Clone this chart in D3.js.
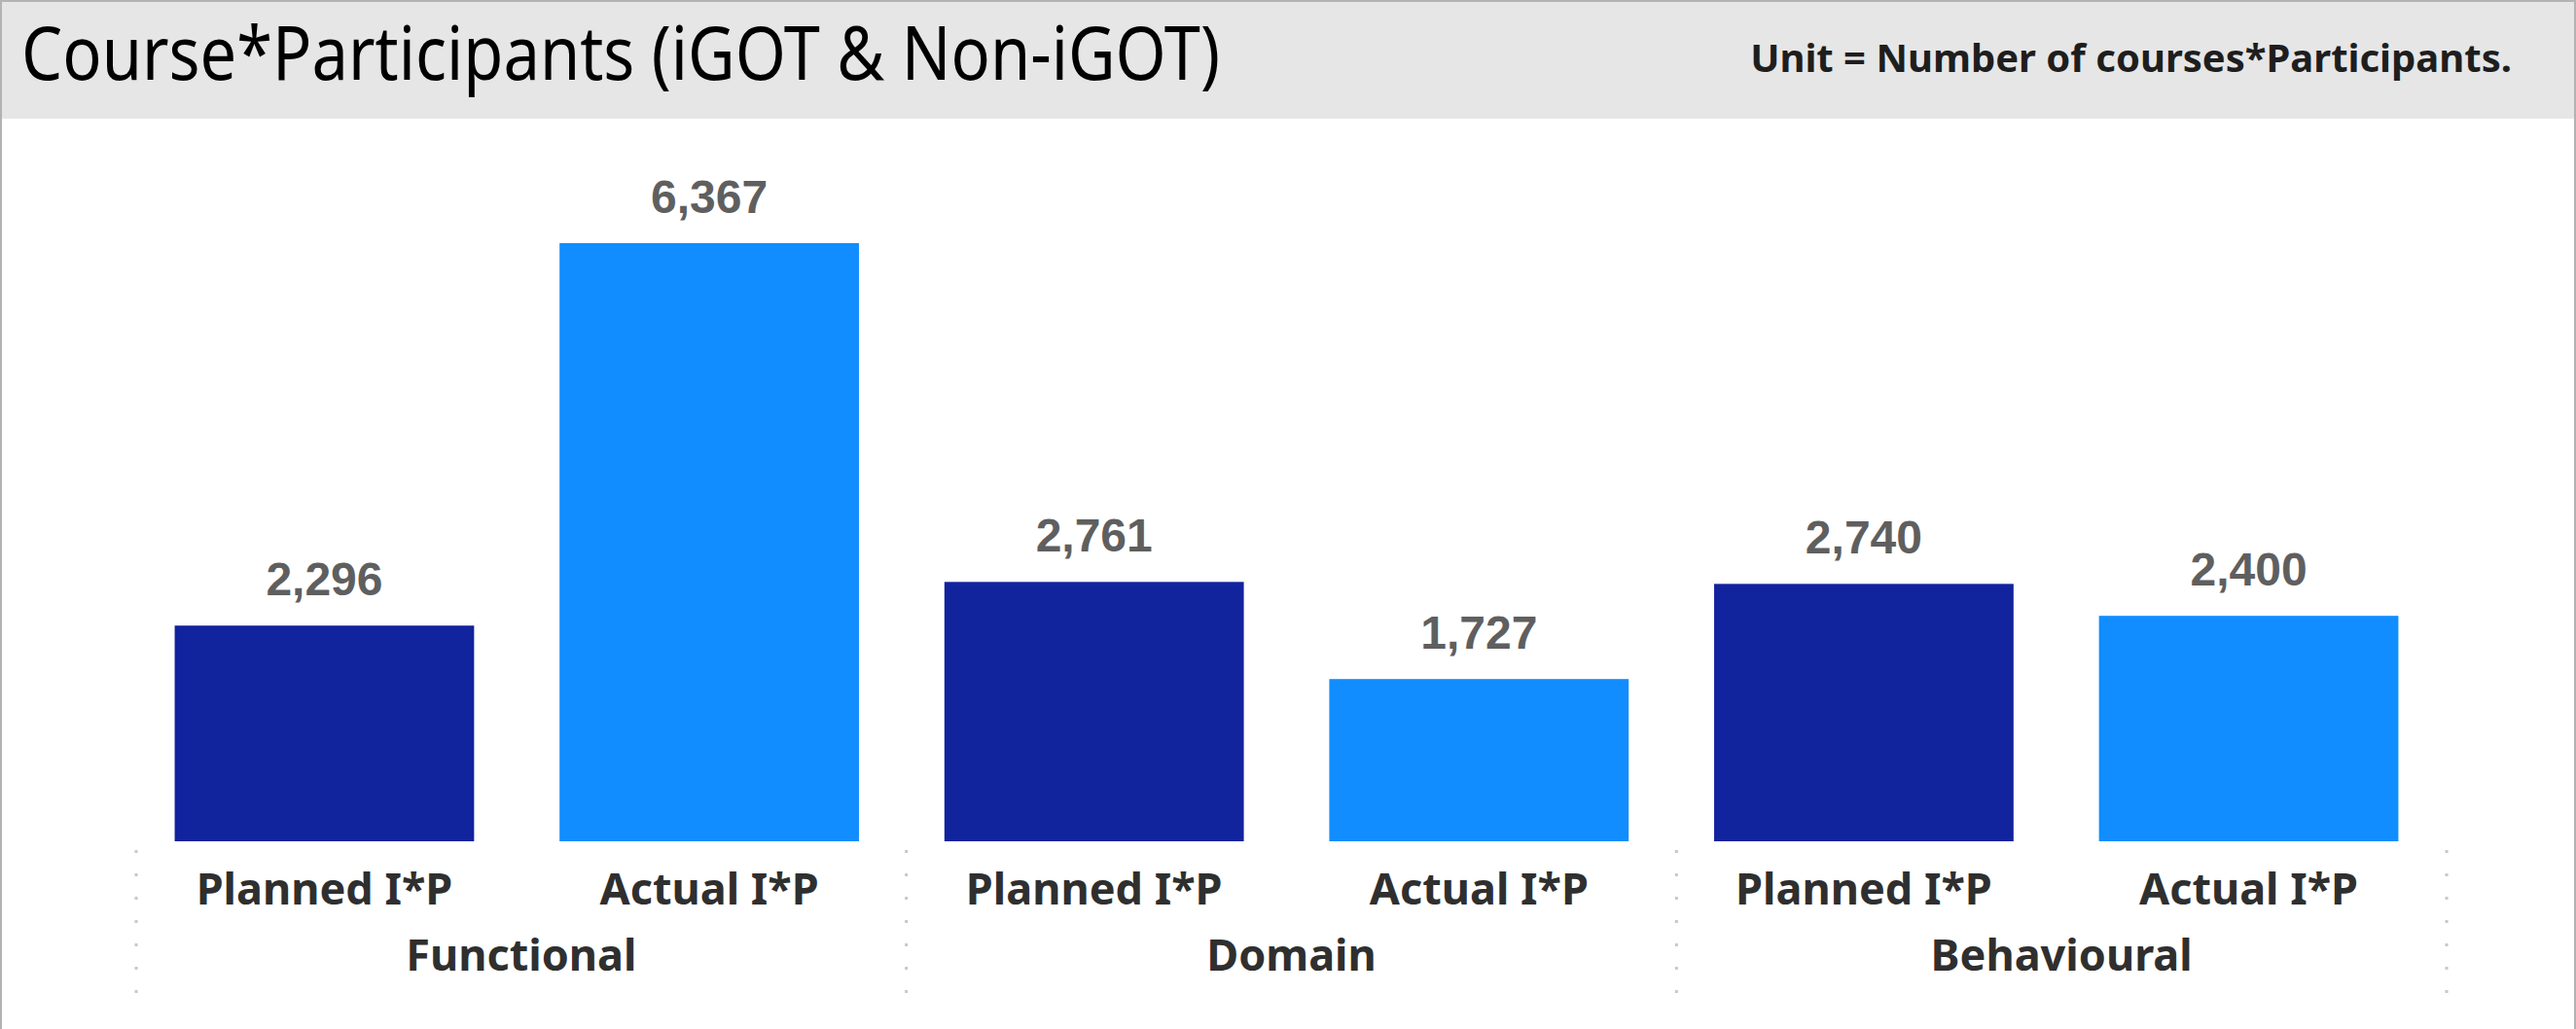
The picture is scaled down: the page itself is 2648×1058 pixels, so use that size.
<!DOCTYPE html>
<html>
<head>
<meta charset="utf-8">
<script src="https://cdn.jsdelivr.net/npm/d3@7/dist/d3.min.js"></script>
<style>
  body { margin: 0; background: #fff; }
  svg { display: block; }
</style>
</head>
<body>
<script>
// Chart values
var groups = ["Functional", "Domain", "Behavioural"];
var measures = ["Planned I*P", "Actual I*P"];
var planned = [2296, 2761, 2740];
var actual = [6367, 1727, 2400];
var colors = ["#12239E", "#118DFF"];

var titleText = "Course*Participants (iGOT & Non-iGOT)";
var unitText = "Unit = Number of courses*Participants.";

var W = 2648, H = 1058;
var margin = {left: 140, right: 133, baseline: 865, top: 250};

// flatten into one row per bar
var dataset = [];
groups.forEach(function (g, i) {
  dataset.push({group: g, measure: measures[0], value: planned[i], key: g + "|" + measures[0], c: 0});
  dataset.push({group: g, measure: measures[1], value: actual[i], key: g + "|" + measures[1], c: 1});
});

var svg = d3.select("body").append("svg")
  .attr("width", W)
  .attr("height", H);

// header band
svg.append("rect")
  .attr("x", 0).attr("y", 0)
  .attr("width", W).attr("height", 122)
  .attr("fill", "#e6e6e6");

svg.append("text")
  .attr("x", 22)
  .attr("y", 82)
  .attr("font-family", "'Segoe UI', 'Noto Sans', sans-serif")
  .attr("font-size", "76px")
  .attr("textLength", 1232)
  .attr("lengthAdjust", "spacingAndGlyphs")
  .attr("fill", "#000")
  .text(titleText);

svg.append("text")
  .attr("x", 2582)
  .attr("y", 74)
  .attr("text-anchor", "end")
  .attr("font-family", "'Segoe UI', 'Noto Sans', sans-serif")
  .attr("font-weight", "bold")
  .attr("font-size", "40px")
  .attr("fill", "#1e1e1e")
  .text(unitText);

// scales
var xScale = d3.scaleBand()
  .domain(dataset.map(function (d) { return d.key; }))
  .range([margin.left, 2505])
  .paddingInner(0.222)
  .paddingOuter(0.1);

var groupScale = d3.scaleBand()
  .domain(groups)
  .range([margin.left, W - margin.right]);

var yScale = d3.scaleLinear()
  .domain([0, d3.max(dataset, function (d) { return d.value; })])
  .range([margin.baseline, margin.top]);

var fmt = d3.format(",");

svg.selectAll("rect.bar")
  .data(dataset)
  .enter()
  .append("rect")
  .attr("class", "bar")
  .attr("x", function (d) { return xScale(d.key); })
  .attr("y", function (d) { return yScale(d.value); })
  .attr("width", xScale.bandwidth())
  .attr("height", function (d) { return yScale(0) - yScale(d.value); })
  .attr("fill", function (d) { return colors[d.c]; });

svg.selectAll("text.val")
  .data(dataset)
  .enter()
  .append("text")
  .attr("class", "val")
  .attr("x", function (d) { return xScale(d.key) + xScale.bandwidth() / 2; })
  .attr("y", function (d) { return yScale(d.value) - 31; })
  .attr("text-anchor", "middle")
  .attr("font-family", "'Liberation Sans', Arial, sans-serif")
  .attr("font-weight", "bold")
  .attr("font-size", "48px")
  .attr("fill", "#5f5f5f")
  .text(function (d) { return fmt(d.value); });

// x axis: measure labels, then group labels
var axisFont = "'Segoe UI', 'Noto Sans', sans-serif";

svg.selectAll("text.cat")
  .data(dataset)
  .enter()
  .append("text")
  .attr("class", "cat")
  .attr("x", function (d) { return xScale(d.key) + xScale.bandwidth() / 2; })
  .attr("y", 930)
  .attr("text-anchor", "middle")
  .attr("font-family", axisFont)
  .attr("font-weight", "bold")
  .attr("font-size", "45px")
  .attr("fill", "#2f2f2f")
  .text(function (d) { return d.measure; });

svg.selectAll("text.grp")
  .data(groups)
  .enter()
  .append("text")
  .attr("class", "grp")
  .attr("x", function (d) { return groupScale(d) + groupScale.bandwidth() / 2; })
  .attr("y", 998)
  .attr("text-anchor", "middle")
  .attr("font-family", axisFont)
  .attr("font-weight", "bold")
  .attr("font-size", "45px")
  .attr("fill", "#2f2f2f")
  .text(function (d) { return d; });

// dotted separators between groups
var seps = groups.map(function (g) { return groupScale(g); });
seps.push(W - margin.right);

svg.selectAll("line.sep")
  .data(seps)
  .enter()
  .append("line")
  .attr("class", "sep")
  .attr("x1", function (d) { return d; })
  .attr("x2", function (d) { return d; })
  .attr("y1", 874)
  .attr("y2", 1024)
  .attr("stroke", "#c8c8c8")
  .attr("stroke-width", 3)
  .attr("stroke-dasharray", "3,21");

// frame around the visual (no bottom edge)
svg.append("path")
  .attr("d", "M1," + H + "V1H" + (W - 1) + "V" + H)
  .attr("fill", "none")
  .attr("stroke", "#b3b3b3")
  .attr("stroke-width", 2);
</script>
</body>
</html>
